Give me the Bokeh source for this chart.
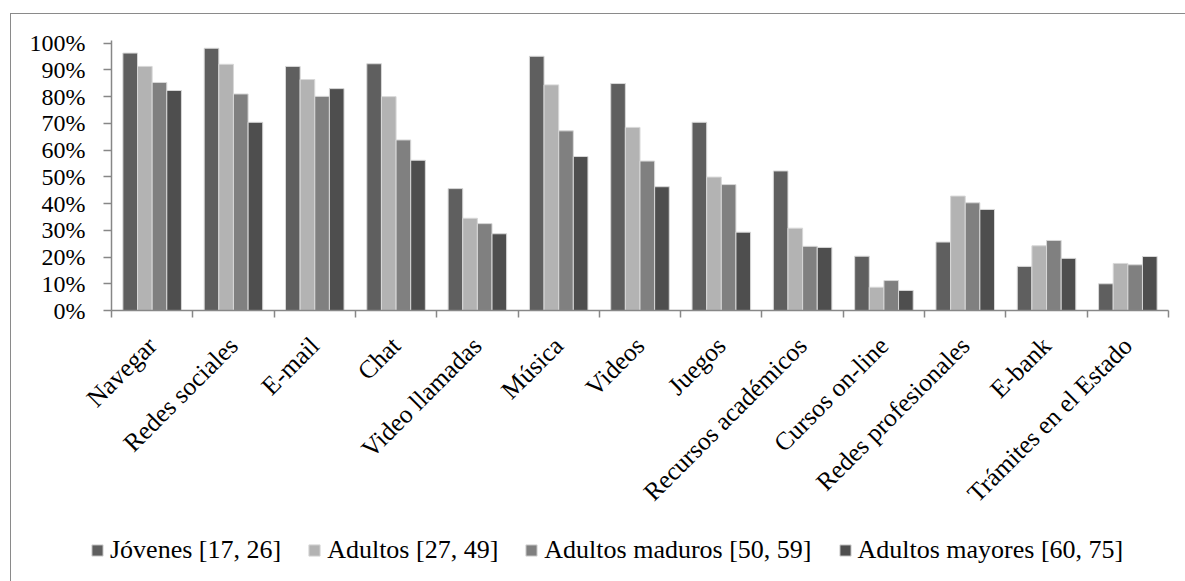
from math import pi

from bokeh.embed import file_html
from bokeh.layouts import column
from bokeh.models import (ColumnDataSource, FixedTicker, Legend, LegendItem,
                          LinearAxis, PrintfTickFormatter, Range1d)
from bokeh.plotting import figure
from bokeh.resources import INLINE
from bokeh.transform import dodge

# Share of users (%) per internet activity and age group
categorias = ["Navegar", "Redes sociales", "E-mail", "Chat", "Video llamadas",
              "Música", "Videos", "Juegos", "Recursos académicos",
              "Cursos on-line", "Redes profesionales", "E-bank",
              "Trámites en el Estado"]

jovenes = [96.3, 98.1, 91.3, 92.3, 45.6, 95.1, 84.9, 70.4, 52.2, 20.3, 25.6, 16.5, 10.0]
adultos = [91.3, 92.1, 86.4, 80.0, 34.5, 84.4, 68.5, 49.9, 30.8, 8.7, 42.8, 24.2, 17.6]
maduros = [85.3, 81.0, 80.1, 63.8, 32.5, 67.2, 55.9, 47.1, 24.0, 11.2, 40.3, 26.2, 17.1]
mayores = [82.3, 70.4, 83.0, 56.2, 28.7, 57.6, 46.3, 29.3, 23.6, 7.5, 37.8, 19.5, 20.2]

series = ["Jóvenes [17, 26]", "Adultos [27, 49]",
          "Adultos maduros [50, 59]", "Adultos mayores [60, 75]"]
y_ticks = list(range(0, 101, 10))

FONT = "Liberation Serif"
GRID = "#878787"
colores = ["#5f5f5f", "#b3b3b3", "#808080", "#4e4e4e"]
cols = ["jov", "adu", "mad", "may"]
offsets = [-0.27, -0.09, 0.09, 0.27]

pos = list(range(len(categorias)))
source = ColumnDataSource(dict(x=pos, jov=jovenes, adu=adultos,
                               mad=maduros, may=mayores))

W = 1174

p = figure(width=W, height=516, output_backend="svg", toolbar_location=None,
           x_range=Range1d(-0.5, len(categorias) - 0.5),
           y_range=Range1d(0, 101),
           x_axis_type=None, y_axis_type=None)
p.min_border_left = 100
p.min_border_right = 17
p.min_border_top = 26
p.min_border_bottom = 220
p.outline_line_color = None
p.background_fill_color = "white"
p.border_fill_color = "white"
p.frame_align = False

# y axis with percentage labels
yax = LinearAxis(ticker=FixedTicker(ticks=y_ticks),
                 formatter=PrintfTickFormatter(format="%d%%"))
yax.axis_line_color = GRID
yax.axis_line_width = 1.5
yax.major_tick_line_color = GRID
yax.major_tick_line_width = 1.5
yax.major_tick_in = 0
yax.major_tick_out = 8
yax.minor_tick_line_color = None
yax.major_label_standoff = 18
yax.major_label_text_font = FONT
yax.major_label_text_font_size = "24px"
yax.major_label_text_color = "black"
p.add_layout(yax, "left")

p.ygrid.ticker = FixedTicker(ticks=y_ticks)
p.ygrid.grid_line_color = GRID
p.ygrid.grid_line_width = 1.5
p.xgrid.grid_line_color = None

# x axis line with ticks between categories
bounds = [i - 0.5 for i in range(len(categorias) + 1)]
xticks = LinearAxis(ticker=FixedTicker(ticks=bounds))
xticks.axis_line_color = GRID
xticks.axis_line_width = 1.5
xticks.major_tick_line_color = GRID
xticks.major_tick_line_width = 1.5
xticks.major_tick_in = 0
xticks.major_tick_out = 7
xticks.minor_tick_line_color = None
xticks.major_label_standoff = 0
xticks.major_label_text_font_size = "1px"
xticks.major_label_text_alpha = 0
p.add_layout(xticks, "below")

# category names, rotated
xlab = LinearAxis(ticker=FixedTicker(ticks=pos),
                  major_label_overrides={i: c for i, c in enumerate(categorias)})
xlab.axis_line_color = None
xlab.major_tick_line_color = None
xlab.minor_tick_line_color = None
xlab.major_tick_in = 0
xlab.major_tick_out = 0
xlab.major_label_standoff = 24
xlab.major_label_orientation = pi / 4
xlab.major_label_text_font = FONT
xlab.major_label_text_font_size = "25.5px"
xlab.major_label_text_color = "black"
p.add_layout(xlab, "below")

for col, off, color in zip(cols, offsets, colores):
    p.vbar(x=dodge("x", off, range=p.x_range), top=col, width=0.18,
           bottom=0, source=source, fill_color=color,
           line_color="#d8d8d8", line_width=1)

# legend strip under the chart; its swatch renderers sit outside the view
lg = figure(width=W, height=51, output_backend="svg", toolbar_location=None,
            x_range=Range1d(0, 1), y_range=Range1d(0, 1),
            x_axis_type=None, y_axis_type=None, min_border=0)
lg.outline_line_color = None
lg.grid.grid_line_color = None
lg.frame_align = False
items = []
for color, name in zip(colores, series):
    r = lg.vbar(x=[5], top=[1], width=0.1, fill_color=color,
                line_color="#d8d8d8", line_width=1)
    items.append(LegendItem(label=name, renderers=[r]))

legend = Legend(items=items, orientation="horizontal", location=(79, 16))
legend.label_text_font = FONT
legend.label_text_font_size = "26px"
legend.label_text_color = "black"
legend.glyph_width = 14
legend.glyph_height = 14
legend.label_standoff = 6
legend.spacing = 26
legend.padding = 0
legend.margin = 0
legend.border_line_color = None
legend.background_fill_alpha = 0
lg.add_layout(legend, "center")

chart = column(p, lg, spacing=0)
chart.margin = (13, 0, 0, 10)
chart.styles = {"border-left": "1px solid #8a8a8a",
                "border-top": "1px solid #8a8a8a"}

open("out.html", "w").write(file_html(chart, INLINE))
